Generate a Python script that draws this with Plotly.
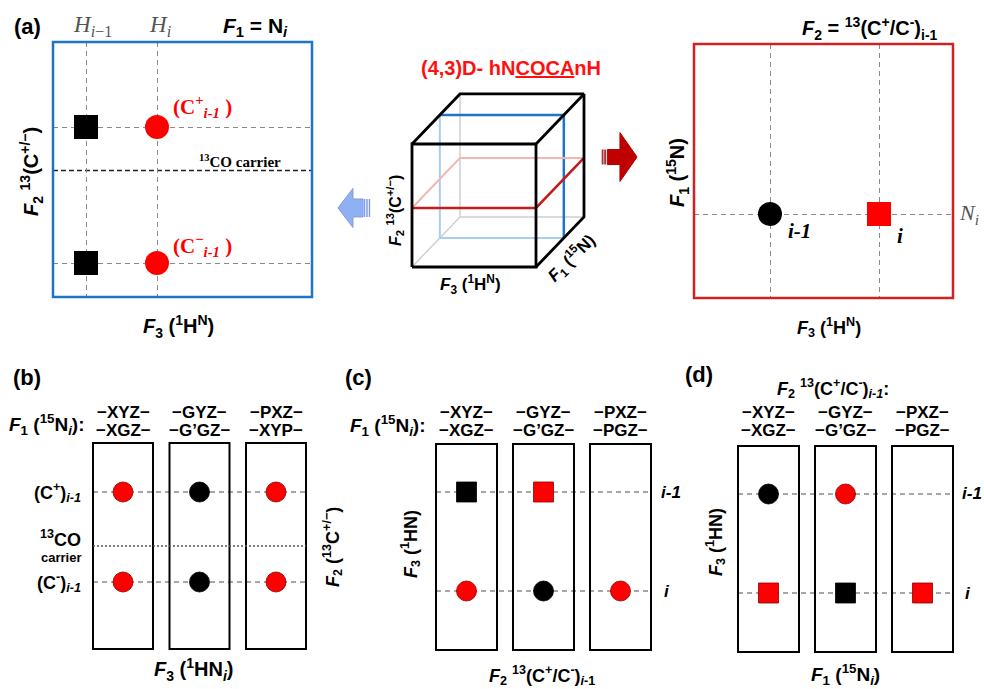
import plotly.graph_objects as go

W, H = 984, 689
SANS = "Liberation Sans, Arial, sans-serif"
SERIF = "Liberation Serif, Times New Roman, serif"

def fx(p):
    return p / W

def fy(p):
    return 1 - p / H

def axrange(p0, p1, va, pa, vb, pb):
    k = (vb - va) / (pb - pa)
    return [va + (p0 - pa) * k, va + (p1 - pa) * k]

# ---------------- data ----------------
# (a) left: F2/F3 plane at F1 = N_i
a_cols = ["H_i-1", "H_i"]
a_col_pos = [1, 2]
a_row_pos = [1, 2]             # C-_{i-1}, C+_{i-1}
a_carrier = 1.68
a_peak_x = [1, 1, 2, 2]
a_peak_y = [2, 1, 2, 1]
a_peak_kind = ["square", "square", "circle", "circle"]
a_peak_color = ["black", "black", "red", "red"]

# (a) right: F1/F3 plane at F2 = 13(C+/C-)_{i-1}
r_col_pos = [1, 2]             # i-1, i
r_row_pos = [1]                # N_i
r_peak_x = [1, 2]
r_peak_y = [1, 1]
r_peak_kind = ["circle", "square"]
r_peak_color = ["black", "red"]

# cube (oblique projection)
cube_depth = (0.387, 0.407)
blue_plane_depth = 0.58
red_plane_height = 0.48
blue_arrow_x = [-0.597, -0.476, -0.476, -0.395, -0.395, -0.476, -0.476, -0.597]
blue_arrow_y = [0.48, 0.639, 0.553, 0.553, 0.407, 0.407, 0.321, 0.48]
blue_stripes_x = [-0.383, -0.363, -0.343]
red_arrow_x = [1.815, 1.677, 1.677, 1.575, 1.575, 1.677, 1.677, 1.815]
red_arrow_y = [0.894, 1.093, 0.955, 0.955, 0.833, 0.833, 0.695, 0.894]
red_stripes_x = [1.537, 1.557]

# strips (b), (c), (d)
strip_cols = [1, 2, 3]
b_headers = [("−XYZ−", "−XGZ−"), ("−GYZ−", "−G’GZ−"), ("−PXZ−", "−XYP−")]
c_headers = [("−XYZ−", "−XGZ−"), ("−GYZ−", "−G’GZ−"), ("−PXZ−", "−PGZ−")]
d_headers = [("−XYZ−", "−XGZ−"), ("−GYZ−", "−G’GZ−"), ("−PXZ−", "−PGZ−")]
b_rows = [2, 1]                # (C+)_{i-1}, (C-)_{i-1}
b_carrier = 1.4
b_peak_x = [1, 2, 3, 1, 2, 3]
b_peak_y = [2, 2, 2, 1, 1, 1]
b_peak_kind = ["circle"] * 6
b_peak_color = ["red", "black", "red", "red", "black", "red"]
c_rows = [2, 1]                # i-1, i
c_peak_x = [1, 2, 1, 2, 3]
c_peak_y = [2, 2, 1, 1, 1]
c_peak_kind = ["square", "square", "circle", "circle", "circle"]
c_peak_color = ["black", "red", "red", "black", "red"]
d_rows = [2, 1]                # i-1, i
d_peak_x = [1, 2, 1, 2, 3]
d_peak_y = [2, 2, 1, 1, 1]
d_peak_kind = ["circle", "circle", "square", "square", "square"]
d_peak_color = ["black", "red", "red", "black", "red"]

# ---------------- styles ----------------
BLUE = "#1f74c6"
BOXRED = "#cf2222"
RED = "#ff0000"
GRAY = "#8a8a8a"
BRED = "#8b0000"

fig = go.Figure()
layout = {}
shapes = []
ann = []

def text(t, x, y, size=16, color="black", family=SANS, xanchor="center",
         yanchor="middle", angle=0, xref="paper", xshift=0):
    ann.append(dict(text=t, x=x if xref != "paper" else fx(x), y=fy(y),
                    xref=xref, yref="paper", showarrow=False,
                    font=dict(size=size, color=color, family=family),
                    xanchor=xanchor, yanchor=yanchor, textangle=angle,
                    xshift=xshift))

def peaks(xs, ys, kinds, colors, size, ax, outline=True):
    lc = [BRED if c == "red" else "black" for c in colors]
    col = [RED if c == "red" else "black" for c in colors]
    fig.add_trace(go.Scatter(
        x=xs, y=ys, mode="markers", xaxis="x" + ax, yaxis="y" + ax,
        marker=dict(symbol=kinds, color=col, size=size,
                    line=dict(width=0.8 if outline else 0, color=lc)),
        hoverinfo="skip", showlegend=False))

def hidden(domain, rng, anchor):
    return dict(domain=domain, range=rng, visible=False, anchor=anchor,
                fixedrange=True)

def frame(ax, color):
    shapes.append(dict(type="rect", xref="x" + ax + " domain", yref="y" + ax + " domain",
                       x0=0, x1=1, y0=0, y1=1, layer="above",
                       line=dict(color=color, width=2.5)))

# ---------- (a) left ----------
gridax = dict(showgrid=True, gridcolor=GRAY, griddash="5px,4px", gridwidth=1.2,
              showticklabels=False, ticks="", zeroline=False, showline=False,
              fixedrange=True)
layout["xaxis"] = dict(gridax, domain=[fx(53), fx(312)],
                       range=axrange(53, 312, 1, 86, 2, 157),
                       tickvals=a_col_pos, anchor="y")
layout["yaxis"] = dict(gridax, domain=[fy(297), fy(42)],
                       range=axrange(297, 42, 1, 263, 2, 127),
                       tickvals=a_row_pos, anchor="x")
frame("", BLUE)
shapes.append(dict(type="line", xref="x domain", yref="y", x0=0, x1=1,
                   y0=a_carrier, y1=a_carrier, layer="below",
                   line=dict(color="#222222", width=1.5, dash="5px,3px")))
peaks(a_peak_x, a_peak_y, a_peak_kind, a_peak_color, 24, "", outline=False)

text("<b>(a)</b>", 27, 27, size=22)
text("<i>H</i><sub><i>i</i>−1</sub>", a_col_pos[0], 26, size=23, color="#555555",
     family=SERIF, xref="x", xshift=6)
text("<i>H</i><sub><i>i</i></sub>", a_col_pos[1], 26, size=23, color="#555555",
     family=SERIF, xref="x", xshift=3)
text("<b><i>F</i><sub>1</sub> = N<sub><i>i</i></sub></b>", 255, 27, size=21)
text("<b>(C<sup>+</sup><sub><i>i-1</i></sub> )</b>", 171, 106, size=21, color=RED,
     family=SERIF, xanchor="left")
text("<b>(C<sup>−</sup><sub><i>i-1</i></sub> )</b>", 171, 245, size=21, color=RED,
     family=SERIF, xanchor="left")
text("<b><sup>13</sup>CO carrier</b>", 240, 161, size=15, family=SERIF)
text("<b><i>F</i><sub>2</sub> <sup>13</sup>(C<sup>+/−</sup>)</b>", 31, 171,
     size=20, angle=-90)
text("<b><i>F</i><sub>3</sub> (<sup>1</sup>H<sup>N</sup>)</b>", 178, 326, size=20)

# ---------- (a) right ----------
layout["xaxis2"] = dict(gridax, domain=[fx(694), fx(953)],
                        range=axrange(694, 953, 1, 770, 2, 879),
                        tickvals=r_col_pos, anchor="y2")
layout["yaxis2"] = dict(gridax, domain=[fy(298), fy(44)],
                        range=axrange(298, 44, 0, 298, 1, 214),
                        tickvals=r_row_pos, anchor="x2")
frame("2", BOXRED)
peaks(r_peak_x, r_peak_y, r_peak_kind, r_peak_color, 24, "2", outline=False)
text("<b><i>i-1</i></b>", 799, 231, size=21, family=SERIF)
text("<b><i>i</i></b>", 900, 236, size=21, family=SERIF)
text("<i>N</i><sub><i>i</i></sub>", 957, 214, size=22, color="#555555",
     family=SERIF, xanchor="left")
text("<b><i>F</i><sub>2</sub> = <sup>13</sup>(C<sup>+</sup>/C<sup>-</sup>)<sub>i-1</sub></b>",
     870, 28, size=20)
text("<b><i>F</i><sub>1</sub> (<sup>15</sup>N)</b>", 677, 173, size=20, angle=-90)
text("<b><i>F</i><sub>3</sub> (<sup>1</sup>H<sup>N</sup>)</b>", 829, 327, size=18)

# ---------- cube ----------
layout["xaxis3"] = hidden([fx(330), fx(650)], axrange(330, 650, 0, 412, 1, 536), "y3")
layout["yaxis3"] = hidden([fy(300), fy(55)], axrange(300, 55, 0, 267, 1, 144), "x3")
dx, dy = cube_depth

def off(p, t):
    return (p[0] + t * dx, p[1] + t * dy)

def seg(points, color, width):
    fig.add_trace(go.Scatter(x=[p[0] for p in points], y=[p[1] for p in points],
                             mode="lines", xaxis="x3", yaxis="y3",
                             line=dict(color=color, width=width),
                             hoverinfo="skip", showlegend=False))

c00, c10, c11, c01 = (0, 0), (1, 0), (1, 1), (0, 1)
# hidden edges
seg([c00, off(c00, 1)], "#d0d0d0", 1.5)
seg([off(c10, 1), off(c00, 1), off(c01, 1)], "#d0d0d0", 1.5)
# blue plane
t = blue_plane_depth
seg([off(c01, t), off(c00, t), off(c10, t)], "#a9cdef", 2)
seg([off(c01, t), off(c11, t), off(c10, t)], BLUE, 2.5)
# red plane
h = red_plane_height
q0, q1 = (0, h), (1, h)
seg([off(q1, 1), off(q0, 1), q0], "#f3b4b4", 2)
seg([q0, q1, off(q1, 1)], "#c41a1a", 2.5)
# visible cube edges
seg([c00, c10, c11, c01, c00], "black", 2.8)
seg([c01, off(c01, 1), off(c11, 1), c11], "black", 2.8)
seg([off(c11, 1), off(c10, 1), c10], "black", 2.8)
# arrows
fig.add_trace(go.Scatter(x=blue_arrow_x, y=blue_arrow_y, mode="lines",
                         fill="toself", fillcolor="#8fb0f2", xaxis="x3", yaxis="y3",
                         line=dict(color="#7e9ee0", width=1),
                         hoverinfo="skip", showlegend=False))
for sx in blue_stripes_x:
    seg([(sx, blue_arrow_y[3]), (sx, blue_arrow_y[4])], "#7f9fe0", 1.5)
fig.add_trace(go.Scatter(x=red_arrow_x, y=red_arrow_y, mode="lines",
                         fill="toself", fillcolor="#c00000", xaxis="x3", yaxis="y3",
                         line=dict(color="#b00000", width=1),
                         hoverinfo="skip", showlegend=False))
for sx in red_stripes_x:
    seg([(sx, red_arrow_y[3]), (sx, red_arrow_y[4])], "#a83030", 1.8)

text("<b>(4,3)D- hN<u>COCA</u>nH</b>", 511, 68, size=20, color="#ff1010")
text("<b><i>F</i><sub>2</sub> <sup>13</sup>(C<sup>+/−</sup>)</b>", 395, 211,
     size=16, angle=-90)
text("<b><i>F</i><sub>3</sub> (<sup>1</sup>H<sup>N</sup>)</b>", 470, 285, size=17)
text("<b><i>F</i><sub>1</sub> (<sup>15</sup>N)</b>", 571, 258, size=17, angle=-45)

# ---------- strips ----------
def strip_panel(ax, xdom, ydom, col_px, row_px, box_px, hw_px, rows, headers,
                header_y):
    (xp0, xp1), (yp0, yp1) = xdom, ydom
    xr = axrange(xp0, xp1, 1, col_px[0], 3, col_px[1])
    yr = axrange(yp0, yp1, 1, row_px[1], 2, row_px[0])
    layout["xaxis" + ax] = hidden([fx(xp0), fx(xp1)], xr, "y" + ax)
    layout["yaxis" + ax] = hidden([fy(yp0), fy(yp1)], yr, "x" + ax)
    kx = 2 / (col_px[1] - col_px[0])
    ky = 1 / (row_px[1] - row_px[0])
    hw = hw_px * kx
    ytop = 2 + (row_px[0] - box_px[0]) * ky
    ybot = 1 - (box_px[1] - row_px[1]) * ky
    for r in rows:
        shapes.append(dict(type="line", xref="x" + ax, yref="y" + ax,
                           x0=strip_cols[0] - hw, x1=strip_cols[-1] + hw, y0=r, y1=r,
                           layer="below",
                           line=dict(color=GRAY, width=1.3, dash="5px,4px")))
    for c in strip_cols:
        shapes.append(dict(type="rect", xref="x" + ax, yref="y" + ax,
                           x0=c - hw, x1=c + hw, y0=ybot, y1=ytop, layer="below",
                           line=dict(color="black", width=2)))
    for c, (h1, h2) in zip(strip_cols, headers):
        text(f"<b>{h1}</b>", c, header_y, size=17, xref="x" + ax)
        text(f"<b>{h2}</b>", c, header_y + 18, size=17, xref="x" + ax)
    return hw

# (b)
hw_b = strip_panel("4", (80, 320), (660, 430), (123, 276), (492, 582), (443, 649),
                   30, b_rows, b_headers, 412)
shapes.append(dict(type="line", xref="x4", yref="y4",
                   x0=strip_cols[0] - hw_b, x1=strip_cols[-1] + hw_b,
                   y0=b_carrier, y1=b_carrier, layer="below",
                   line=dict(color="#555555", width=1.3, dash="2px,2px")))
peaks(b_peak_x, b_peak_y, b_peak_kind, b_peak_color, 20, "4")
text("<b>(b)</b>", 27, 378, size=22)
text("<b><i>F</i><sub>1</sub> (<sup>15</sup>N<sub><i>i</i></sub>):</b>", 47, 424, size=19)
text("<b>(C<sup>+</sup>)<sub><i>i-1</i></sub></b>", 83, 492, size=18, xanchor="right")
text("<b><sup>13</sup>CO</b>", 83, 538, size=18, xanchor="right")
text("<b>carrier</b>", 83, 557, size=13, xanchor="right")
text("<b>(C<sup>-</sup>)<sub><i>i-1</i></sub></b>", 83, 582, size=18, xanchor="right")
text("<b><i>F</i><sub>3</sub> (<sup>1</sup>HN<sub><i>i</i></sub>)</b>", 193, 669, size=20)
text("<b><i>F</i><sub>2</sub> (<sup>13</sup>C<sup>+/−</sup>)</b>", 332, 547,
     size=18, angle=-90)

# (c)
strip_panel("5", (425, 660), (660, 430), (466.5, 620.5), (492, 591), (444, 650),
            30.5, c_rows, c_headers, 412)
peaks(c_peak_x, c_peak_y, c_peak_kind, c_peak_color, 20, "5")
text("<b>(c)</b>", 358, 378, size=22)
text("<b><i>F</i><sub>1</sub> (<sup>15</sup>N<sub><i>i</i></sub>):</b>", 388, 425, size=19)
text("<b><i>F</i><sub>3</sub> (<sup>1</sup>HN)</b>", 410, 544, size=18, angle=-90)
text("<b><i>i-1</i></b>", 659, 492, size=17, xanchor="left")
text("<b><i>i</i></b>", 662, 591, size=17, xanchor="left")
text("<b><i>F</i><sub>2</sub> <sup>13</sup>(C<sup>+</sup>/C<sup>-</sup>)<sub><i>i</i>-1</sub></b>",
     542, 675, size=18)

# (d)
strip_panel("6", (728, 963), (660, 430), (768.5, 922.5), (494, 593), (446, 652),
            30.5, d_rows, d_headers, 412)
peaks(d_peak_x, d_peak_y, d_peak_kind, d_peak_color, 20, "6")
text("<b>(d)</b>", 699, 375, size=22)
text("<b><i>F</i><sub>2</sub> <sup>13</sup>(C<sup>+</sup>/C<sup>-</sup>)<sub><i>i-1</i></sub>:</b>",
     833, 388, size=18)
text("<b><i>F</i><sub>3</sub> (<sup>1</sup>HN)</b>", 715, 542, size=18, angle=-90)
text("<b><i>i-1</i></b>", 960, 494, size=17, xanchor="left")
text("<b><i>i</i></b>", 963, 593, size=17, xanchor="left")
text("<b><i>F</i><sub>1</sub> (<sup>15</sup>N<sub><i>i</i></sub>)</b>", 845, 674, size=19)

fig.update_layout(width=W, height=H, margin=dict(l=0, r=0, t=0, b=0),
                  paper_bgcolor="white", plot_bgcolor="rgba(0,0,0,0)",
                  showlegend=False, shapes=shapes, annotations=ann, **layout)
fig.write_html("out.html", config={"displayModeBar": False},
               post_script="document.body.style.margin='0px';")
